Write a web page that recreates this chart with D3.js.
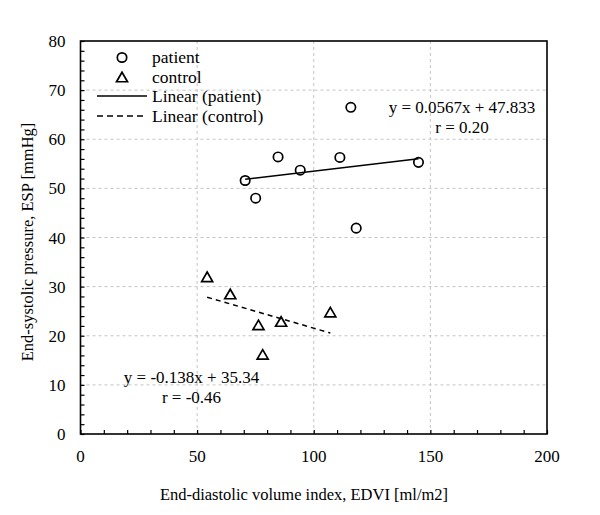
<!DOCTYPE html>
<html>
<head>
<meta charset="utf-8">
<script src="https://cdn.jsdelivr.net/npm/d3@7"></script>
<style>
  html, body { margin: 0; padding: 0; background: #fff; }
  svg { display: block; font-family: "Liberation Serif", "Times New Roman", serif; }
</style>
</head>
<body>
<svg id="chart" width="600" height="515"></svg>
<script>
// ---- data ----
const patientX = [70.6, 75.1, 84.7, 94.2, 111.2, 115.9, 118.2, 144.9];
const patientY = [51.6, 48.0, 56.4, 53.7, 56.3, 66.5, 41.9, 55.3];
const controlX = [54.3, 64.2, 76.3, 78.1, 86.0, 107.1];
const controlY = [32.0, 28.5, 22.2, 16.2, 22.9, 24.8];
const patientFit = { slope: 0.0567, intercept: 47.833 };
const controlFit = { slope: -0.138, intercept: 35.34 };
const xTicks = [0, 50, 100, 150, 200];
const yTicks = [0, 10, 20, 30, 40, 50, 60, 70, 80];
const legendLabels = ["patient", "control", "Linear (patient)", "Linear (control)"];
const patientEq = ["y = 0.0567x + 47.833", "r = 0.20"];
const controlEq = ["y = -0.138x + 35.34", "r = -0.46"];
const xTitle = "End-diastolic volume index, EDVI [ml/m2]";
const yTitle = "End-systolic pressure, ESP [mmHg]";

// ---- layout ----
const svg = d3.select("#chart");
const pL = 80.5, pR = 547, pT = 41, pB = 434;
const x = d3.scaleLinear().domain([0, 200]).range([pL, pR]);
const y = d3.scaleLinear().domain([0, 80]).range([pB, pT]);
const fs = 17;

// grid
const grid = svg.append("g");
grid.selectAll("line.vg").data(xTicks.filter(d => d > 0 && d < 200)).enter().append("line")
  .attr("x1", d => x(d)).attr("x2", d => x(d)).attr("y1", pT).attr("y2", pB)
  .attr("stroke", "#c4c4c4").attr("stroke-width", 1).attr("stroke-dasharray", "3,3");
grid.selectAll("line.hg").data(yTicks.filter(d => d > 0 && d < 80)).enter().append("line")
  .attr("x1", pL).attr("x2", pR).attr("y1", d => y(d)).attr("y2", d => y(d))
  .attr("stroke", "#c4c4c4").attr("stroke-width", 1).attr("stroke-dasharray", "3,3");

// axes (ticks inward)
const xAxis = d3.axisBottom(x).tickValues(d3.range(0, 201, 10)).tickSize(-4).tickFormat("");
const yAxis = d3.axisLeft(y).tickValues(d3.range(0, 81, 2)).tickSize(-4).tickFormat("");
const gx = svg.append("g").attr("transform", `translate(0,${pB})`).call(xAxis);
const gy = svg.append("g").attr("transform", `translate(${pL},0)`).call(yAxis);
[gx, gy].forEach(g => {
  g.select(".domain").remove();
  g.selectAll(".tick line").attr("stroke", "#000").attr("stroke-width", 1.2);
});

// frame
svg.append("rect").attr("x", pL).attr("y", pT).attr("width", pR - pL).attr("height", pB - pT)
  .attr("fill", "none").attr("stroke", "#000").attr("stroke-width", 1.6);

// tick labels
svg.selectAll("text.xl").data(xTicks).enter().append("text")
  .attr("x", d => x(d)).attr("y", 461.5).attr("text-anchor", "middle")
  .attr("font-size", fs).text(d => d);
svg.selectAll("text.yl").data(yTicks).enter().append("text")
  .attr("x", 65.5).attr("y", d => y(d) + 6).attr("text-anchor", "end")
  .attr("font-size", fs).text(d => d);

// titles
svg.append("text").attr("x", 304).attr("y", 500).attr("text-anchor", "middle")
  .attr("font-size", 16.5).text(xTitle);
svg.append("text").attr("transform", "translate(33,242) rotate(-90)").attr("text-anchor", "middle")
  .attr("font-size", 16.5).text(yTitle);

// regression lines
const pExt = d3.extent(patientX), cExt = d3.extent(controlX);
svg.append("line")
  .attr("x1", x(pExt[0])).attr("y1", y(patientFit.slope * pExt[0] + patientFit.intercept))
  .attr("x2", x(pExt[1])).attr("y2", y(patientFit.slope * pExt[1] + patientFit.intercept))
  .attr("stroke", "#000").attr("stroke-width", 1.5);
svg.append("line")
  .attr("x1", x(cExt[0])).attr("y1", y(controlFit.slope * cExt[0] + controlFit.intercept))
  .attr("x2", x(cExt[1])).attr("y2", y(controlFit.slope * cExt[1] + controlFit.intercept))
  .attr("stroke", "#000").attr("stroke-width", 1.5).attr("stroke-dasharray", "5,4");

// markers
const tri = (w, h) => `M0,${-h / 2}L${w / 2},${h / 2}L${-w / 2},${h / 2}Z`;
const patient = patientX.map((v, i) => ({ x: v, y: patientY[i] }));
const control = controlX.map((v, i) => ({ x: v, y: controlY[i] }));
svg.selectAll("circle.p").data(patient).enter().append("circle")
  .attr("cx", d => x(d.x)).attr("cy", d => y(d.y)).attr("r", 4.7)
  .attr("fill", "none").attr("stroke", "#000").attr("stroke-width", 1.7);
svg.selectAll("path.c").data(control).enter().append("path")
  .attr("transform", d => `translate(${x(d.x)},${y(d.y)})`).attr("d", tri(11, 9.5))
  .attr("fill", "none").attr("stroke", "#000").attr("stroke-width", 1.7).attr("stroke-linejoin", "miter");

// legend
const lg = svg.append("g");
lg.append("circle").attr("cx", 122).attr("cy", 57.5).attr("r", 4.7)
  .attr("fill", "none").attr("stroke", "#000").attr("stroke-width", 1.7);
lg.append("path").attr("transform", "translate(122,77)").attr("d", tri(11, 9.5))
  .attr("fill", "none").attr("stroke", "#000").attr("stroke-width", 1.7);
lg.append("line").attr("x1", 97).attr("x2", 147).attr("y1", 96).attr("y2", 96)
  .attr("stroke", "#000").attr("stroke-width", 1.5);
lg.append("line").attr("x1", 97).attr("x2", 147).attr("y1", 116).attr("y2", 116)
  .attr("stroke", "#000").attr("stroke-width", 1.5).attr("stroke-dasharray", "6,4");
const legendY = [63, 83, 102, 121.5];
lg.selectAll("text").data(legendLabels).enter().append("text")
  .attr("x", 152).attr("y", (d, i) => legendY[i]).attr("font-size", 17.5).text(d => d);

// equations
svg.selectAll("text.pe").data(patientEq).enter().append("text")
  .attr("x", 462).attr("y", (d, i) => 113 + i * 19.5).attr("text-anchor", "middle")
  .attr("font-size", fs).text(d => d);
svg.selectAll("text.ce").data(controlEq).enter().append("text")
  .attr("x", 191.5).attr("y", (d, i) => 383 + i * 19.5).attr("text-anchor", "middle")
  .attr("font-size", fs).text(d => d);
</script>
</body>
</html>
